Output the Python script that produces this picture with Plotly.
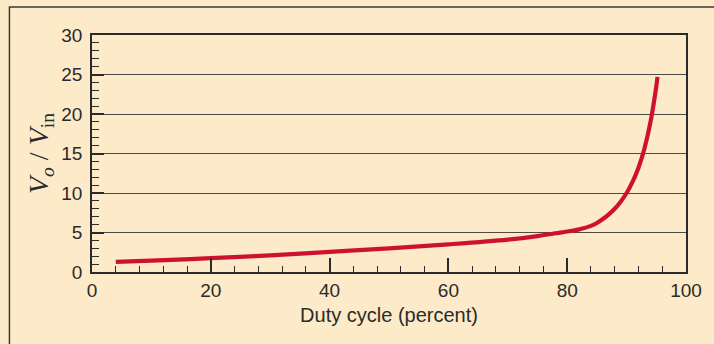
import plotly.graph_objects as go

# Voltage gain versus duty cycle
duty_cycle = [4, 10, 20, 30, 40, 50, 60, 70, 75, 78, 80, 82, 84, 85, 86, 87,
              88, 89, 90, 91, 92, 93, 94, 95, 95.2]
gain = [1.28, 1.45, 1.75, 2.1, 2.55, 3.0, 3.5, 4.1, 4.55, 4.9, 5.12, 5.4, 5.84,
        6.2, 6.7, 7.3, 8.0, 8.9, 10.0, 11.4, 13.2, 15.6, 18.9, 23.5, 24.7]

x_ticks = [0, 20, 40, 60, 80, 100]
y_ticks = [0, 5, 10, 15, 20, 25, 30]

bg = "#fdeac8"
ink = "#2b2b2b"

fig = go.Figure()
fig.add_trace(go.Scatter(
    x=duty_cycle, y=gain, mode="lines",
    line=dict(color="#cf1130", width=4.2, shape="spline", smoothing=1.0),
    hoverinfo="skip",
))

fig.update_layout(
    width=714, height=344,
    margin=dict(l=92, r=18, t=35, b=72),
    paper_bgcolor=bg, plot_bgcolor=bg,
    showlegend=False,
    font=dict(family="Liberation Sans, Arial, sans-serif", color=ink),
    shapes=[dict(type="rect", xref="paper", yref="paper",
                 x0=-0.139, x1=1.06, y0=-0.4, y1=1.118,
                 line=dict(color="#3a3a3a", width=1.5), layer="below")],
)

fig.update_xaxes(
    range=[0, 100], tickvals=x_ticks, ticktext=[str(v) for v in x_ticks],
    ticks="inside", ticklen=14, tickwidth=1.5, tickcolor=ink,
    minor=dict(dtick=4, ticks="inside", ticklen=6, tickwidth=1.3, tickcolor=ink, showgrid=False),
    showline=True, linecolor=ink, linewidth=1.6, mirror=True,
    showgrid=False, zeroline=False,
    tickfont=dict(size=19, color=ink),
    title=dict(text="Duty cycle (percent)", font=dict(size=20, color=ink), standoff=8),
)

fig.update_yaxes(
    range=[0, 30], tickvals=y_ticks, ticktext=[str(v) for v in y_ticks],
    ticks="inside", ticklen=12, tickwidth=1.5, tickcolor=ink,
    minor=dict(dtick=1, ticks="inside", ticklen=7, tickwidth=1.3, tickcolor=ink, showgrid=False),
    showline=True, linecolor=ink, linewidth=1.6, mirror=True,
    showgrid=True, gridcolor="#4a4a4a", gridwidth=1.3, zeroline=False,
    tickfont=dict(size=19, color=ink), ticklabelstandoff=4,
    title=dict(text="<i>V</i><sub><i>o</i></sub> / <i>V</i><sub>in</sub>",
               font=dict(family="Liberation Serif, Times New Roman, serif", size=28, color=ink),
               standoff=4),
)

fig.write_html("out.html")
